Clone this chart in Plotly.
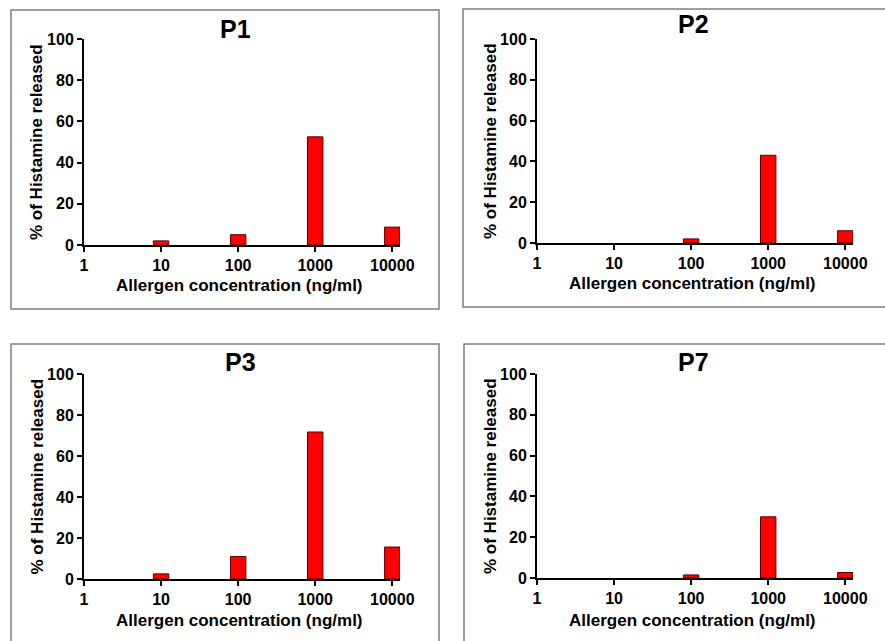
import numpy as np
import plotly.graph_objects as go

# ---- data ----
tick_values = [1, 10, 100, 1000, 10000]
tick_labels = ["1", "10", "100", "1000", "10000"]
bar_conc = [10, 100, 1000, 10000]
p1 = [2, 5, 52.5, 8.7]
p2 = [None, 2, 43, 6]
p3 = [2.5, 11, 71.7, 15.6]
p7 = [None, 1.5, 30, 2.7]
y_ticks = [0, 20, 40, 60, 80, 100]
panel_titles = ["P1", "P2", "P3", "P7"]
x_title = "Allergen concentration (ng/ml)"
y_title = "% of Histamine released"

W, H = 885, 641
FONT = "Liberation Sans, Arial, sans-serif"


def px(x):
    return x / W


def py(y):
    return 1 - y / H


panels = [
    dict(ax=(84, 400, 39, 245), box=(11, 439, 10, 309), title=(235, 29), ytitle_x=37, xtitle_y=285),
    dict(ax=(537, 853, 39, 243), box=(463, 900, 9, 307), title=(693, 24), ytitle_x=490, xtitle_y=283),
    dict(ax=(84, 400, 374, 579), box=(11, 439, 344, 660), title=(240, 362), ytitle_x=37, xtitle_y=620),
    dict(ax=(537, 853, 374, 578), box=(464, 900, 344, 660), title=(693, 362), ytitle_x=490, xtitle_y=620),
]
series = [p1, p2, p3, p7]

fig = go.Figure()
layout = dict(
    width=W, height=H, autosize=False,
    margin=dict(l=0, r=0, t=0, b=0, pad=0, autoexpand=False),
    paper_bgcolor="white", plot_bgcolor="white",
    showlegend=False,
    font=dict(family=FONT, color="black"),
)
shapes = []
annotations = []

log_bar = np.log10(bar_conc)
log_ticks = np.log10(tick_values)

for i, (pan, vals, title) in enumerate(zip(panels, series, panel_titles)):
    n = "" if i == 0 else str(i + 1)
    xl, xr, yt, yb = pan["ax"]
    fig.add_trace(go.Bar(
        x=log_bar, y=vals, width=0.2,
        marker=dict(color="#ff0000", line=dict(color="#5a0000", width=1)),
        xaxis="x" + n, yaxis="y" + n,
    ))
    layout["xaxis" + n] = dict(
        domain=[px(xl), px(xr)], anchor="y" + n, range=[0, 4.1], automargin=False,
        tickmode="array", tickvals=log_ticks, ticktext=tick_labels,
        ticks="outside", ticklen=5, tickwidth=2, tickcolor="black",
        showline=True, linecolor="black", linewidth=2,
        showgrid=False, zeroline=False, fixedrange=True,
        tickfont=dict(family=FONT, size=16, color="black", weight="bold"),
    )
    layout["yaxis" + n] = dict(
        domain=[py(yb), py(yt)], anchor="x" + n, range=[0, 100], automargin=False,
        tickmode="array", tickvals=y_ticks,
        ticks="outside", ticklen=5, tickwidth=2, tickcolor="black",
        showline=True, linecolor="black", linewidth=2,
        showgrid=False, zeroline=False, fixedrange=True,
        tickfont=dict(family=FONT, size=16, color="black", weight="bold"),
    )
    bx0, bx1, by0, by1 = pan["box"]
    shapes.append(dict(type="rect", xref="paper", yref="paper",
                       x0=px(bx0), x1=px(bx1), y0=py(by1), y1=py(by0),
                       line=dict(color="#7f7f7f", width=1.5), layer="below"))
    tx, ty = pan["title"]
    annotations.append(dict(text=title, x=px(tx), y=py(ty), xref="paper", yref="paper",
                            showarrow=False, xanchor="center", yanchor="middle",
                            font=dict(family=FONT, size=25, color="black", weight="bold")))
    annotations.append(dict(text=x_title, x=px((xl + xr) / 2 - 3), y=py(pan["xtitle_y"]),
                            xref="paper", yref="paper", showarrow=False,
                            xanchor="center", yanchor="middle",
                            font=dict(family=FONT, size=17, color="black", weight="bold")))
    annotations.append(dict(text=y_title, x=px(pan["ytitle_x"]), y=py((yt + yb) / 2),
                            xref="paper", yref="paper", showarrow=False, textangle=-90,
                            xanchor="center", yanchor="middle",
                            font=dict(family=FONT, size=17, color="black", weight="bold")))

layout["shapes"] = shapes
layout["annotations"] = annotations
fig.update_layout(**layout)

post = (
    "var de=document.documentElement, b=document.body;"
    "de.style.margin='0';de.style.padding='0';de.style.overflow='hidden';"
    "b.style.margin='0';b.style.padding='0';b.style.overflow='hidden';"
)
fig.write_html("out.html", config={"displayModeBar": False}, post_script=post)
